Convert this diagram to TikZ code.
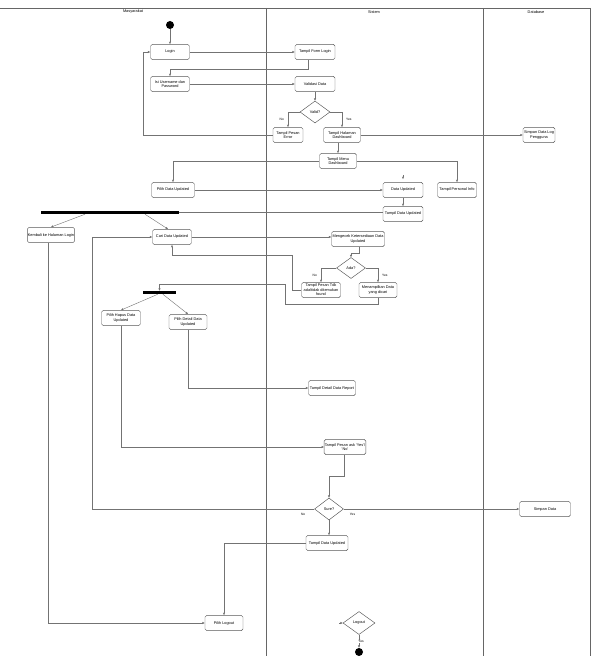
\documentclass[tikz,border=0pt]{standalone}
\usepackage{fontspec}
\setmainfont{Liberation Sans}
\usetikzlibrary{arrows.meta,shapes.geometric}

\begin{document}
\begin{tikzpicture}[x=0.03cm,y=-0.03cm,font=\fontsize{3.3}{3.9}\selectfont,
  act/.style={draw=black!65,rounded corners=1.5pt,align=center,minimum height=0.46cm,
              inner sep=0.5pt,fill=white},
  decide/.style={draw=black!65,diamond,align=center,inner sep=0pt},
  bar/.style={fill=black,inner sep=0pt,minimum height=0.09cm},
  dot/.style={circle,fill=black,inner sep=0pt,minimum size=0.24cm},
  arr/.style={draw=black!55,line width=0.35pt,-{Triangle[length=0.7mm,width=0.6mm]}},
  lane/.style={draw=black!60,line width=0.6pt},
  lbl/.style={font=\fontsize{2.8}{3}\selectfont}]
\useasboundingbox (0,0) rectangle (595,656);
% swimlanes
\draw[lane] (0,8) -- (590,8);
\draw[lane] (266,8) -- (266,656);
\draw[lane] (483,8) -- (483,656);
\draw[lane] (590,8) -- (590,656);
\node at (133,12) {Masyarakat};
\node at (374,12) {Sistem};
\node at (536,12) {Database};
% login
\node[dot] (start) at (170,25) {};
\node[act,minimum width=1.17cm] (login) at (170,52) {Login};
\node[act,minimum width=1.2cm] (form) at (315,52) {Tampil Form Login};
\node[act,minimum width=1.17cm] (isi) at (170,84) {Isi Username dan\\Password};
\node[act,minimum width=1.2cm] (validasi) at (315,84) {Validasi Data};
\node[decide,minimum width=0.9cm,minimum height=0.66cm] (valid) at (315,112) {Valid?};
\node[act,minimum width=0.9cm] (error) at (288,135) {Tampil Pesan\\Error};
\node[act,minimum width=1.11cm] (halaman) at (342,135) {Tampil Halaman\\Dashboard};
\node[act,minimum width=0.96cm] (simpanlog) at (539,135) {Simpan Data Log\\Pengguna};
\node[act,minimum width=1.11cm] (menu) at (338,161) {Tampil Menu\\Dashboard};
% data updated
\node[act,minimum width=1.29cm] (pilihdata) at (173,190) {Pilih Data Updated};
\node[act,minimum width=1.2cm] (dataupd) at (403,190) {Data Updated};
\node[act,minimum width=1.17cm] (personal) at (457,190) {Tampil Personal Info};
\node[act,minimum width=1.2cm] (tampilupd) at (403,214) {Tampil Data Updated};
\node[bar,minimum width=4.14cm] (fork) at (110,212.5) {};
\node[act,minimum width=1.14cm] (kembali) at (51,235) {Kembali ke Halaman Login};
\node[act,minimum width=1.17cm] (cari) at (172,237) {Cari Data Updated};
\node[act,minimum width=1.59cm] (cek) at (358,239) {Mengecek Ketersediaan Data\\Updated};
\node[decide,minimum width=0.87cm,minimum height=0.63cm] (ada) at (351,268) {Ada?};
\node[act,minimum width=1.17cm] (kosong) at (321,290) {Tampil Pesan Tdk\\ada/tidak ditemukan\\found};
\node[act,minimum width=1.14cm] (hasil) at (378,290) {Menampilkan Data\\yang dicari};
\node[bar,minimum width=0.99cm] (join) at (159.5,292.5) {};
\node[act,minimum width=1.17cm] (hapus) at (121,318) {Pilih Hapus Data\\Updated};
\node[act,minimum width=1.14cm] (detail) at (188,322) {Pilih Detail Data\\Updated};
\node[act,minimum width=1.41cm] (report) at (332,388) {Tampil Detail Data Report};
\node[act,minimum width=1.14cm] (tanya) at (345,447) {Tampil Pesan ask `Yes'/\\`No'};
\node[decide,minimum width=0.87cm,minimum height=0.66cm] (sure) at (329,509) {Sure?};
\node[act,minimum width=1.53cm] (simpan) at (545,509) {Simpan Data};
\node[act,minimum width=1.26cm] (tampilupd2) at (327,543) {Tampil Data Updated};
% logout
\node[act,minimum width=1.14cm] (pilihlogout) at (224,623) {Pilih Logout};
\node[decide,minimum width=0.96cm,minimum height=0.69cm] (logout) at (359,623) {Logout};
\node[dot] (end) at (359,652) {};
\coordinate (stubtop) at (403,175);
\coordinate (stubleft) at (339,623);
% connectors
\draw[arr] (start) -- (login);
\draw[arr] (login) -- (form);
\draw[arr] ([xshift=-0.21cm]form.south) -- ++(0,9) -| (isi.north);
\draw[arr] (isi) -- (validasi);
\draw[arr] (validasi) -- (valid);
\draw[arr] (valid.west) -| (error.north) node[lbl,pos=0.75,left] {No};
\draw[arr] (valid.east) -| (halaman.north) node[lbl,pos=0.75,right] {Yes};
\draw[arr] (error.west) -- (143,135) |- (login.west);
\draw[arr] (halaman) -- (simpanlog);
\draw[arr] (menu.north |- halaman.south) -- (menu.north);
\draw[arr] (menu.west) -| (pilihdata.north);
\draw[arr] (menu.east) -| (personal.north);
\draw[arr] (pilihdata) -- (dataupd);
\draw[arr] (stubtop) -- ([yshift=0.09cm]dataupd.north);
\draw[arr] (dataupd) -- (tampilupd);
\draw[arr,-] (tampilupd.west |- fork.east) -- (fork.east);
\draw[arr] ([xshift=-0.75cm]fork.south) -- (kembali.north);
\draw[arr] ([xshift=1.05cm]fork.south) -- ([xshift=-0.12cm]cari.north);
\draw[arr] (cari.east) -- (cari.east -| cek.west);
\draw[arr] ([xshift=0.03cm]cek.south) -- ++(0,6) -| (ada.north);
\draw[arr] (ada.west) -| (kosong.north) node[lbl,pos=0.75,left] {No};
\draw[arr] (ada.east) -| (hasil.north) node[lbl,pos=0.75,right] {Yes};
\draw[arr] (kosong.west) -- (292,290) -- (292,255) -| (cari.south);
\draw[arr] (hasil.south) -- ++(0,6) -| (285,284) -| (join.north);
\draw[arr] ([xshift=-0.05cm]join.south) -- (hapus.north);
\draw[arr] ([xshift=0.1cm]join.south) -- (detail.north);
\draw[arr] (detail.south) |- (report.west);
\draw[arr] (hapus.south) |- (tanya.west);
\draw[arr] ([xshift=-0.03cm]tanya.south) -- ++(0,21) -| (sure.north);
\draw[arr] (sure.west) -- (92,509) node[lbl,pos=0.05,below] {No} |- (cari.west);
\draw[arr] (sure.east) -- (simpan.west) node[lbl,pos=0.05,below] {Yes};
\draw[arr] (sure.south) -- (sure.south |- tampilupd2.north);
\draw[arr] (tampilupd2.west) -| (pilihlogout.north);
\draw[arr] ([xshift=-0.09cm]kembali.south) |- (pilihlogout.west);
\draw[arr] (stubleft) -- (logout.west);
\draw[arr] (logout.south) -- (end) node[lbl,midway,right=-1pt,fill=white,inner sep=0.3pt] {Yes};
\end{tikzpicture}
\end{document}
